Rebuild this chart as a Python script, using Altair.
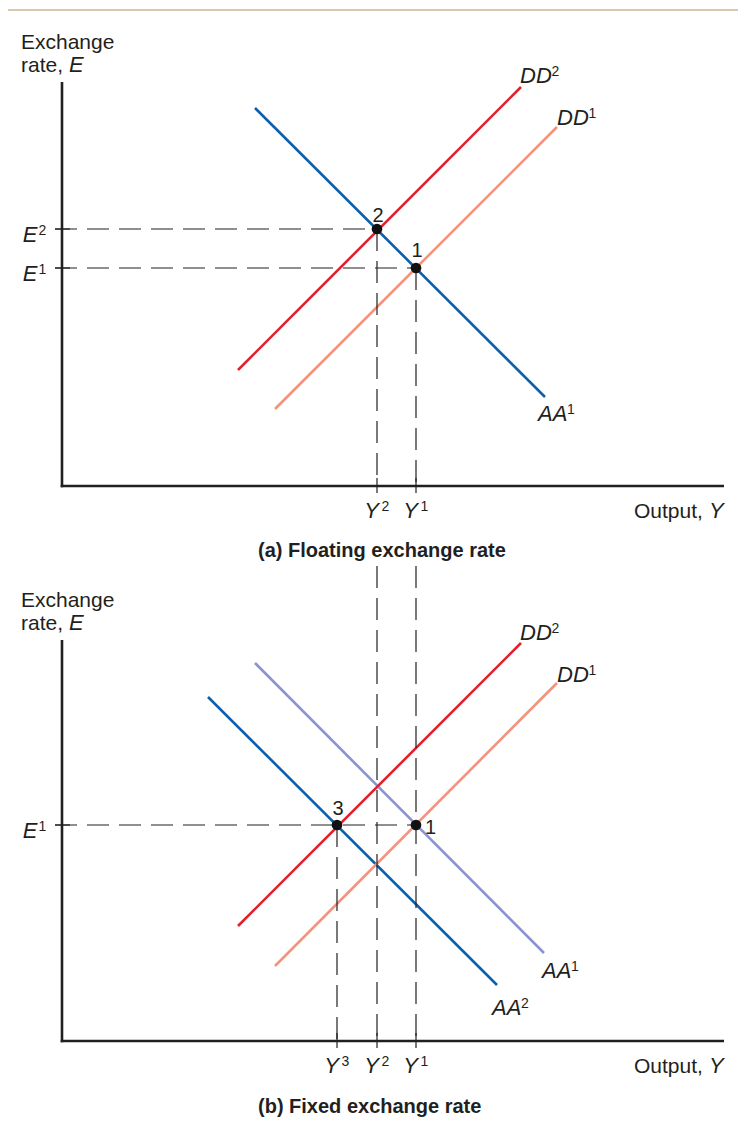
import altair as alt
import pandas as pd

# ---------------- values ----------------
# local units: output measured from the vertical axis, exchange rate from the horizontal axis
Y1, Y2, Y3 = 35.4, 31.5, 27.5
E1_A, E2_A = 21.8, 25.7          # panel (a) floating
E1_B = 21.6                      # panel (b) fixed

curve_panel = ["a", "a", "a", "b", "b", "b", "b"]
curve_name = ["AA1", "DD2", "DD1", "AA1", "AA2", "DD2", "DD1"]
curve_x0 = [19.3, 17.6, 21.3, 19.3, 14.6, 17.6, 21.3]
curve_y0 = [37.8, 11.6, 7.7, 37.8, 34.4, 11.5, 7.5]
curve_x1 = [48.3, 45.9, 49.5, 48.2, 43.5, 45.9, 49.5]
curve_y1 = [8.9, 39.9, 35.9, 8.8, 5.6, 39.8, 35.8]
curve_color = ["#0b5fad", "#e3202d", "#f4937b", "#8a94d0", "#0b5fad", "#e3202d", "#f4937b"]

point_panel = ["a", "a", "b", "b"]
point_x = [Y1, Y2, Y3, Y1]
point_y = [E1_A, E2_A, E1_B, E1_B]
point_label = ["1", "2", "3", "1"]

axis_top = {"a": 40.4, "b": 40.1}
axis_right = 66.2

# curve labels: panel, x, y, main text, superscript
curve_lab_panel = ["a", "a", "a", "b", "b", "b", "b"]
curve_lab_x = [45.8, 49.5, 47.6, 45.8, 49.5, 48.0, 43.0]
curve_lab_y = [40.3, 36.1, 6.5, 40.1, 35.9, 6.3, 2.6]
curve_lab_main = ["DD", "DD", "AA", "DD", "DD", "AA", "AA"]
curve_lab_sup = ["2", "1", "1", "2", "1", "1", "2"]

# ---------------- layout ----------------
PANEL_BASE = {"a": 64.6, "b": 9.1}
X_DOMAIN = [-5.4, 67.6]
Y_DOMAIN = [1.2, 112.4]
W, H = 730, 1112
INK = "#231f20"
FONT = "Liberation Sans"
SUP_DX = {"DD": 3.15, "AA": 2.9}

xs = alt.Scale(domain=X_DOMAIN, nice=False, zero=False)
ys = alt.Scale(domain=Y_DOMAIN, nice=False, zero=False)


def place(df):
    df = df.copy()
    base = df["panel"].map(PANEL_BASE)
    for c in ("y", "y2"):
        if c in df:
            df[c] = df[c] + base
    return df


def rules(df, **mark):
    return alt.Chart(place(df)).mark_rule(**mark).encode(
        x=alt.X("x:Q", scale=xs, axis=None), x2="x2:Q",
        y=alt.Y("y:Q", scale=ys, axis=None), y2="y2:Q")


def texts(rows, **mark):
    df = pd.DataFrame(rows, columns=["panel", "x", "y", "text"])
    m = dict(baseline="alphabetic", font=FONT, color=INK)
    m.update(mark)
    return alt.Chart(place(df)).mark_text(**m).encode(
        x=alt.X("x:Q", scale=xs, axis=None),
        y=alt.Y("y:Q", scale=ys, axis=None),
        text="text:N")


# curves
curves = pd.DataFrame({"panel": curve_panel, "name": curve_name, "x": curve_x0, "y": curve_y0,
                       "x2": curve_x1, "y2": curve_y1, "color": curve_color})
curve_layer = alt.Chart(place(curves)).mark_rule(strokeWidth=2.6).encode(
    x=alt.X("x:Q", scale=xs, axis=None), x2="x2:Q",
    y=alt.Y("y:Q", scale=ys, axis=None), y2="y2:Q",
    color=alt.Color("color:N", scale=None))

# axes
ax_rows = []
for p in ("a", "b"):
    ax_rows.append((p, 0, -0.13, 0, axis_top[p]))
    ax_rows.append((p, -0.13, 0, axis_right, 0))
axes = pd.DataFrame(ax_rows, columns=["panel", "x", "y", "x2", "y2"])

# dashed guide lines
E_PAIRS_A = [(E2_A, Y2), (E1_A, Y1)]
dash_rows = []
for e, yv in E_PAIRS_A:
    dash_rows.append(("a", -0.7, e, yv, e))
    dash_rows.append(("a", yv, e, yv, 0))
dash_rows.append(("b", -0.7, E1_B, Y1, E1_B))
dash_rows.append(("b", Y3, E1_B, Y3, 0))
for yv in (Y2, Y1):
    dash_rows.append(("b", yv, 47.5, yv, 0))
dashes = pd.DataFrame(dash_rows, columns=["panel", "x", "y", "x2", "y2"])

# small ticks crossing the axes
tick_rows = []
for p, yvals, evals in (("a", [Y2, Y1], [E2_A, E1_A]), ("b", [Y3, Y2, Y1], [E1_B])):
    for yv in yvals:
        tick_rows.append((p, yv, 0.8, yv, -0.7))
    for e in evals:
        tick_rows.append((p, -0.7, e, 0.8, e))
ticks = pd.DataFrame(tick_rows, columns=["panel", "x", "y", "x2", "y2"])

# border line at top of the white panel
border = pd.DataFrame([("b", X_DOMAIN[0], 103.1, X_DOMAIN[1], 103.1)],
                      columns=["panel", "x", "y", "x2", "y2"])

points = pd.DataFrame({"panel": point_panel, "x": point_x, "y": point_y})
point_layer = alt.Chart(place(points)).mark_circle(size=115, color="#111111", opacity=1).encode(
    x=alt.X("x:Q", scale=xs, axis=None), y=alt.Y("y:Q", scale=ys, axis=None))

# ---------------- text ----------------
regular = [("a", -4.1, 43.7, "Exchange"), ("a", -4.1, 41.4, "rate, "),
           ("b", -4.1, 43.4, "Exchange"), ("b", -4.1, 41.1, "rate, "),
           ("a", 57.2, -3.2, "Output, "), ("b", 57.2, -3.2, "Output, ")]
italic_left = [("a", 0.7, 41.4, "E"), ("b", 0.7, 41.1, "E"),
               ("a", 64.7, -3.2, "Y"), ("b", 64.7, -3.2, "Y")]
sup_rows = []
italic_right = []
for p, evals in (("a", [(E2_A, "2"), (E1_A, "1")]), ("b", [(E1_B, "1")])):
    for e, s in evals:
        italic_right.append((p, -2.45, e - 1.3, "E"))
        sup_rows.append((p, -2.35, e - 0.6, s))
for p, yvals in (("a", [(Y2, "2"), (Y1, "1")]), ("b", [(Y3, "3"), (Y2, "2"), (Y1, "1")])):
    for yv, s in yvals:
        italic_right.append((p, yv + 0.2, -3.2, "Y"))
        sup_rows.append((p, yv + 0.45, -2.5, s))
for p, x, y, m, s in zip(curve_lab_panel, curve_lab_x, curve_lab_y, curve_lab_main, curve_lab_sup):
    italic_left.append((p, x, y, m))
    sup_rows.append((p, x + SUP_DX[m], y + 0.7, s))

num_center = [("a", Y2 + 0.1, E2_A + 0.7, "2"), ("a", Y1 + 0.1, E1_A + 1.1, "1"),
              ("b", Y3 + 0.1, E1_B + 1.0, "3")]
num_left = [("b", Y1 + 0.9, E1_B - 0.9, "1")]
titles = [("a", 19.6, -7.1, "(a) Floating exchange rate"),
          ("b", 19.6, -7.2, "(b) Fixed exchange rate")]

layers = [
    rules(border, color="#d8c8ae", strokeWidth=2),
    curve_layer,
    rules(dashes, color=INK, strokeWidth=1.2, strokeDash=[22, 10]),
    rules(ticks, color=INK, strokeWidth=1.2),
    rules(axes, color=INK, strokeWidth=2.6),
    point_layer,
    texts(regular, align="left", fontSize=21),
    texts(italic_left, align="left", fontSize=22, fontStyle="italic"),
    texts(italic_right, align="right", fontSize=22, fontStyle="italic"),
    texts(sup_rows, align="left", fontSize=14),
    texts(num_center, align="center", fontSize=20),
    texts(num_left, align="left", fontSize=20),
    texts(titles, align="left", fontSize=20, fontWeight="bold"),
]

chart = alt.layer(*layers).properties(
    width=W, height=H, background="white", padding=0,
    autosize=alt.AutoSizeParams(type="none"),
).configure_view(stroke=None)

chart.save("out.html", embed_options={"renderer": "svg", "actions": False})
